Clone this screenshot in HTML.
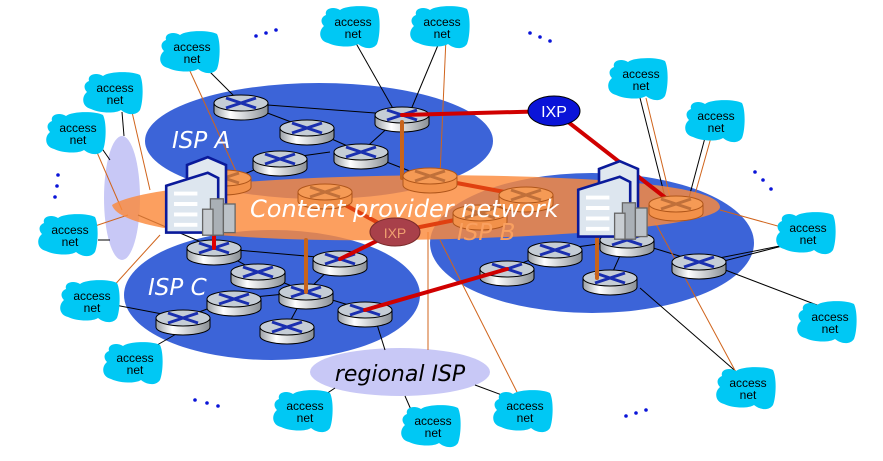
<!DOCTYPE html>
<html><head><meta charset="utf-8"><style>
html,body{margin:0;padding:0;background:#fff}
svg{display:block}
.an{font-family:"Liberation Sans",sans-serif;font-size:12px;fill:#000;text-anchor:middle}
</style></head><body>
<svg width="883" height="461" viewBox="0 0 883 461" xmlns="http://www.w3.org/2000/svg">
<defs>
<linearGradient id="rg" x1="0" x2="1"><stop offset="0" stop-color="#9aa0a6"/><stop offset="0.3" stop-color="#fff"/><stop offset="1" stop-color="#8a9096"/></linearGradient>
<g id="rt"><path d="M-27,0 v9 a27,8 0 0 0 54,0 v-9z" fill="url(#rg)" stroke="#000" stroke-width="1"/><ellipse rx="27" ry="8" fill="#c5cdd6" stroke="#000" stroke-width="1"/><path d="M-15,-5 L15,5 M-15,5 L15,-5" stroke="#1a2fb0" stroke-width="3"/></g>
<g id="ro"><path d="M-27,0 v9 a27,8 0 0 0 54,0 v-9z" fill="#f2914a" stroke="#b0561a" stroke-width="1"/><ellipse rx="27" ry="8" fill="#f59a55" stroke="#b0561a" stroke-width="1"/><path d="M-15,-5 L15,5 M-15,5 L15,-5" stroke="#c0703a" stroke-width="3"/></g>
<path id="cl" d="M-24,-12 C-26,-19 -16,-21 -10,-17 C-4,-22 20,-22 27,-18 C31,-10 30,10 27,17 C23,23 14,22 8,17 C2,21 -14,20 -22,16 C-31,14 -32,4 -26,-1 C-30,-5 -29,-10 -24,-12Z" fill="#00c8f4"/>
<g id="dc"><path d="M-10,-30 L6,-36 L20,-30 L20,14 L-10,14Z" fill="#e0e8f0" stroke="#0a1a9a" stroke-width="2"/><path d="M-26,-14 L6,-24 L14,-20 L14,22 L-26,22Z" fill="#dde6ef" stroke="#0a1a9a" stroke-width="2"/><path d="M-20,-8 h18 M-20,0 h18 M-20,8 h18 M-20,16 h18" stroke="#fff" stroke-width="3"/><rect x="8" y="-4" width="10" height="28" fill="#aab0b6" stroke="#666"/><rect x="18" y="0" width="9" height="22" fill="#bcc2c8" stroke="#666"/><rect x="2" y="4" width="8" height="20" fill="#c8cdd2" stroke="#666"/></g>
</defs>

<ellipse cx="319" cy="141" rx="174" ry="58" fill="#3c64d8"/>
<ellipse cx="592" cy="243" rx="162" ry="70" fill="#3c64d8"/>
<ellipse cx="272" cy="295" rx="148" ry="65" fill="#3c64d8"/>
<ellipse cx="122" cy="198" rx="18" ry="62" fill="#c8c8f6"/>
<ellipse cx="400" cy="372" rx="90" ry="24" fill="#c8c8f6"/>

<g stroke="#000" stroke-width="1" fill="none">
<line x1="200" y1="62" x2="241" y2="103"/><line x1="353" y1="38" x2="395" y2="112"/><line x1="441" y1="38" x2="410" y2="112"/>
<line x1="122" y1="112" x2="124" y2="136"/><line x1="96" y1="140" x2="110" y2="160"/><line x1="98" y1="240" x2="110" y2="240"/>
<line x1="138" y1="215" x2="215" y2="248"/><line x1="640" y1="98" x2="667" y2="205"/><line x1="706" y1="134" x2="687" y2="205"/>
<line x1="790" y1="244" x2="720" y2="262"/><line x1="115" y1="305" x2="183" y2="318"/><line x1="152" y1="348" x2="183" y2="330"/>
<line x1="830" y1="310" x2="720" y2="268"/><line x1="640" y1="288" x2="740" y2="375"/>
<line x1="375" y1="318" x2="385" y2="350"/><line x1="320" y1="398" x2="335" y2="388"/><line x1="405" y1="396" x2="412" y2="412"/><line x1="475" y1="385" x2="510" y2="398"/>
<line x1="241" y1="103" x2="402" y2="115"/><line x1="241" y1="103" x2="307" y2="128"/><line x1="307" y1="128" x2="361" y2="152"/><line x1="361" y1="152" x2="402" y2="115"/><line x1="280" y1="159" x2="330" y2="152"/><line x1="280" y1="159" x2="235" y2="178"/><line x1="361" y1="152" x2="420" y2="175"/>
<line x1="214" y1="248" x2="340" y2="259"/><line x1="214" y1="248" x2="258" y2="272"/><line x1="258" y1="272" x2="306" y2="292"/><line x1="234" y1="299" x2="306" y2="292"/><line x1="183" y1="318" x2="234" y2="299"/><line x1="306" y1="292" x2="365" y2="310"/><line x1="306" y1="292" x2="287" y2="327"/><line x1="340" y1="259" x2="306" y2="292"/>
<line x1="507" y1="269" x2="555" y2="250"/><line x1="555" y1="250" x2="627" y2="240"/><line x1="627" y1="240" x2="699" y2="262"/><line x1="627" y1="240" x2="610" y2="278"/><line x1="699" y1="262" x2="790" y2="244"/>
</g>
<g stroke="#d0641c" stroke-width="1" fill="none">
<line x1="178" y1="45" x2="240" y2="180"/><line x1="446" y1="38" x2="440" y2="175"/><line x1="132" y1="112" x2="150" y2="190"/>
<line x1="96" y1="150" x2="122" y2="210"/><line x1="95" y1="226" x2="128" y2="215"/><line x1="646" y1="98" x2="672" y2="205"/>
<line x1="712" y1="134" x2="692" y2="205"/><line x1="792" y1="230" x2="720" y2="210"/><line x1="110" y1="290" x2="160" y2="235"/>
<line x1="428" y1="232" x2="428" y2="350"/><line x1="520" y1="398" x2="440" y2="240"/><line x1="738" y1="376" x2="655" y2="222"/>
</g>

<use href="#rt" x="241" y="103"/><use href="#rt" x="402" y="115"/><use href="#rt" x="307" y="128"/><use href="#rt" x="361" y="152"/><use href="#rt" x="280" y="159"/>
<use href="#rt" x="555" y="250"/><use href="#rt" x="627" y="240"/><use href="#rt" x="507" y="269"/><use href="#rt" x="699" y="262"/><use href="#rt" x="610" y="278"/>
<use href="#rt" x="214" y="248"/><use href="#rt" x="340" y="259"/><use href="#rt" x="258" y="272"/><use href="#rt" x="234" y="299"/><use href="#rt" x="306" y="292"/><use href="#rt" x="183" y="318"/><use href="#rt" x="287" y="327"/><use href="#rt" x="365" y="310"/>

<path d="M112,205 C150,180 400,170 560,178 C660,182 720,192 720,207 C720,225 560,238 400,240 C250,242 120,232 112,205Z" fill="#fb8a3c" fill-opacity="0.82"/>

<g fill="none" stroke-linecap="round">
<polyline points="402,115 554,111 676,206" stroke="#d00000" stroke-width="4"/>
<line x1="365" y1="310" x2="507" y2="269" stroke="#d00000" stroke-width="4"/>
<line x1="340" y1="259" x2="395" y2="232" stroke="#d00000" stroke-width="4"/>
<line x1="214" y1="248" x2="214" y2="225" stroke="#e00000" stroke-width="4"/>
<line x1="402" y1="122" x2="402" y2="178" stroke="#c8641c" stroke-width="4"/>
<line x1="306" y1="292" x2="306" y2="240" stroke="#c8641c" stroke-width="4"/>
<line x1="597" y1="278" x2="597" y2="238" stroke="#c8641c" stroke-width="4"/>
<line x1="395" y1="232" x2="480" y2="215" stroke="#e04010" stroke-width="4"/>
<line x1="325" y1="194" x2="395" y2="232" stroke="#e04010" stroke-width="4"/>
<line x1="430" y1="178" x2="526" y2="196" stroke="#e04010" stroke-width="4"/>
</g>

<use href="#ro" x="224" y="178"/><use href="#ro" x="430" y="176"/><use href="#ro" x="325" y="192"/><use href="#ro" x="526" y="195"/><use href="#ro" x="480" y="213"/><use href="#ro" x="676" y="204"/>

<ellipse cx="554" cy="111" rx="26" ry="15" fill="#0a14d8" stroke="#000"/>
<text x="554" y="117" font-family="Liberation Sans,sans-serif" font-size="16" fill="#fff" text-anchor="middle">IXP</text>
<ellipse cx="395" cy="232" rx="25" ry="14" fill="#a8404a" stroke="#7a2a2a"/>
<text x="395" y="238" font-family="Liberation Sans,sans-serif" font-size="14" fill="#f0a070" text-anchor="middle">IXP</text>

<g transform="translate(200,204) scale(1.3)"><use href="#dc"/></g>
<g transform="translate(612,208) scale(1.3)"><use href="#dc"/></g>

<g font-family="DejaVu Sans,sans-serif" font-style="italic" fill="#fff">
<text x="172" y="148" font-size="23">ISP A</text>
<text x="148" y="295" font-size="23">ISP C</text>
<text x="457" y="240" font-size="23" fill="#f9a060">ISP B</text>
<text x="250" y="217" font-size="24">Content provider network</text>
</g>
<text x="400" y="381" font-family="DejaVu Sans,sans-serif" font-style="italic" font-size="22" fill="#000" text-anchor="middle">regional ISP</text>

<g fill="#0a14d8">
<circle cx="256" cy="36" r="1.8"/><circle cx="266" cy="33" r="1.8"/><circle cx="276" cy="30" r="1.8"/>
<circle cx="530" cy="33" r="1.8"/><circle cx="540" cy="37" r="1.8"/><circle cx="550" cy="41" r="1.8"/>
<circle cx="58" cy="175" r="1.8"/><circle cx="57" cy="186" r="1.8"/><circle cx="55" cy="197" r="1.8"/>
<circle cx="755" cy="172" r="1.8"/><circle cx="763" cy="180" r="1.8"/><circle cx="771" cy="189" r="1.8"/>
<circle cx="195" cy="400" r="1.8"/><circle cx="207" cy="403" r="1.8"/><circle cx="218" cy="406" r="1.8"/>
<circle cx="626" cy="416" r="1.8"/><circle cx="636" cy="413" r="1.8"/><circle cx="646" cy="410" r="1.8"/>
</g>

<g>
<use href="#cl" x="190" y="52"/><use href="#cl" x="350" y="27"/><use href="#cl" x="440" y="27"/>
<use href="#cl" x="113" y="93"/><use href="#cl" x="76" y="133"/><use href="#cl" x="638" y="79"/>
<use href="#cl" x="715" y="121"/><use href="#cl" x="68" y="235"/><use href="#cl" x="806" y="233"/>
<use href="#cl" x="90" y="301"/><use href="#cl" x="827" y="322"/><use href="#cl" x="133" y="363"/>
<use href="#cl" x="303" y="411"/><use href="#cl" x="431" y="426"/><use href="#cl" x="523" y="411"/><use href="#cl" x="746" y="388"/>
</g>
<g class="an">
<text x="192" y="51">access</text><text x="192" y="63">net</text>
<text x="353" y="26">access</text><text x="353" y="38">net</text>
<text x="442" y="26">access</text><text x="442" y="38">net</text>
<text x="115" y="92">access</text><text x="115" y="104">net</text>
<text x="78" y="132">access</text><text x="78" y="144">net</text>
<text x="641" y="78">access</text><text x="641" y="90">net</text>
<text x="716" y="120">access</text><text x="716" y="132">net</text>
<text x="70" y="234">access</text><text x="70" y="246">net</text>
<text x="808" y="232">access</text><text x="808" y="244">net</text>
<text x="92" y="300">access</text><text x="92" y="312">net</text>
<text x="830" y="321">access</text><text x="830" y="333">net</text>
<text x="135" y="362">access</text><text x="135" y="374">net</text>
<text x="305" y="410">access</text><text x="305" y="422">net</text>
<text x="433" y="425">access</text><text x="433" y="437">net</text>
<text x="525" y="410">access</text><text x="525" y="422">net</text>
<text x="748" y="387">access</text><text x="748" y="399">net</text>
</g>
</svg>
</body></html>
